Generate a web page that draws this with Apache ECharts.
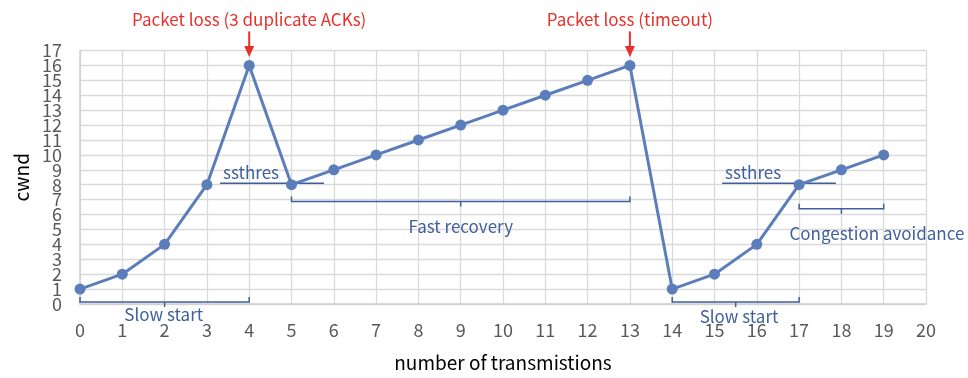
<!DOCTYPE html>
<html><head><meta charset="utf-8">
<script src="https://cdn.jsdelivr.net/npm/echarts@6/dist/echarts.min.js"></script>
<style>html,body{margin:0;padding:0;background:#fff}#c{width:968px;height:378px}</style>
</head><body><div id="c"></div>
<script>
// ---- data ----
const transmissions = [0,1,2,3,4,5,6,7,8,9,10,11,12,13,14,15,16,17,18,19];
const cwnd = [1,2,4,8,16,8,9,10,11,12,13,14,15,16,1,2,4,8,9,10];
const xTicks = [0,20,1];   // min, max, step
const yTicks = [0,17,1];
// brackets: [start, end, y, centre]
const bracketStart = [0, 5, 17, 14];
const bracketEnd   = [4, 13, 19, 17];
const bracketY     = [0.13, 6.87, 6.38, 0.13];
const bracketMid   = [2, 9, 18, 15.5];
const bracketLabel = ['Slow start','Fast recovery','Congestion avoidance','Slow start'];
const bracketLabelX = [1.98, 9.0, 18.84, 15.58];
const bracketLabelY = [-0.72, 5.2, 4.75, -0.82];
// ssthresh lines
const ssStart = [3.31, 15.18];
const ssEnd = [5.77, 17.87];
const ssValue = [8, 8];
const ssLabel = ['ssthres','ssthres'];
// packet loss events
const lossX = [4, 13];
const lossY = [16, 16];
const lossLabel = ['Packet loss (3 duplicate ACKs)','Packet loss (timeout)'];

const FONT = '"Noto Sans CJK KR", "Noto Sans", sans-serif';
const LINE = '#5b7ebb';
const ANN = '#3f5f9c';
const RED = '#e8302a';
const yLabelStyle = {margin:18,fontFamily:FONT,fontSize:18,color:'#595959',lineHeight:14};

const chart = echarts.init(document.getElementById('c'));
chart.setOption({
  animation:false,
  backgroundColor:'#fff',
  grid:{left:80,right:42,top:50.5,bottom:74},
  xAxis:{type:'value',min:xTicks[0],max:xTicks[1],interval:xTicks[2],
    name:'number of transmistions',nameLocation:'middle',nameGap:49,
    nameTextStyle:{fontFamily:FONT,fontSize:19,color:'#000'},
    axisLine:{show:true,lineStyle:{color:'#d0d0d0',width:1.5}},
    axisTick:{show:false},
    axisLabel:{margin:17,fontFamily:FONT,fontSize:18,color:'#595959',showMinLabel:true,showMaxLabel:true},
    splitLine:{show:true,lineStyle:{color:'#d9d9d9',width:1.3}}},
  yAxis:[
   {type:'value',min:yTicks[0],max:yTicks[1],interval:yTicks[2],position:'left',
    name:'cwnd',nameLocation:'middle',nameGap:46,
    nameTextStyle:{fontFamily:FONT,fontSize:19,color:'#000'},
    axisLine:{show:true,lineStyle:{color:'#d0d0d0',width:1.5}},
    axisTick:{show:false},
    axisLabel:Object.assign({showMinLabel:false,showMaxLabel:false},yLabelStyle),
    splitLine:{show:true,lineStyle:{color:'#d9d9d9',width:1.3}}},
   {type:'value',min:yTicks[0],max:yTicks[1],interval:yTicks[1]-yTicks[0],position:'left',offset:0,
    axisLine:{show:false},axisTick:{show:false},splitLine:{show:false},
    axisLabel:Object.assign({showMinLabel:true,showMaxLabel:true},yLabelStyle)}
  ],
  series:[
    {type:'line',data:transmissions.map((x,i)=>[x,cwnd[i]]),
     lineStyle:{color:LINE,width:3},itemStyle:{color:LINE},
     symbol:'circle',symbolSize:11,z:5},
    {type:'custom',clip:false,z:6,
     data:bracketStart.map((s,i)=>[s,bracketEnd[i],bracketY[i],bracketMid[i],bracketLabelX[i],bracketLabelY[i]]),
     renderItem:function(params,api){
       const y=api.value(2);
       const p1=api.coord([api.value(0),y]), p2=api.coord([api.value(1),y]), pc=api.coord([api.value(3),y]);
       const pl=api.coord([api.value(4),api.value(5)]);
       return {type:'group',children:[
         {type:'polyline',shape:{points:[[p1[0],p1[1]-5],[p1[0],p1[1]],[p2[0],p2[1]],[p2[0],p2[1]-5]]},
          style:{stroke:ANN,lineWidth:1.5,fill:null}},
         {type:'line',shape:{x1:pc[0],y1:pc[1],x2:pc[0],y2:pc[1]+5},style:{stroke:ANN,lineWidth:1.5}},
         {type:'text',x:pl[0],y:pl[1],style:{text:bracketLabel[params.dataIndex],fill:ANN,
           font:'17px '+FONT,align:'center',verticalAlign:'middle'}}
       ]};
     }},
    {type:'custom',clip:false,z:4,
     data:ssStart.map((s,i)=>[s,ssEnd[i],ssValue[i]]),
     renderItem:function(params,api){
       const p1=api.coord([api.value(0),api.value(2)]), p2=api.coord([api.value(1),api.value(2)]);
       return {type:'group',children:[
         {type:'line',shape:{x1:p1[0],y1:p1[1]-1.5,x2:p2[0],y2:p2[1]-1.5},style:{stroke:ANN,lineWidth:1.5}},
         {type:'text',x:p1[0]+3,y:p1[1]-12,style:{text:ssLabel[params.dataIndex],fill:ANN,
           font:'17px '+FONT,align:'left',verticalAlign:'middle'}}
       ]};
     }},
    {type:'custom',clip:false,z:6,
     data:lossX.map((x,i)=>[x,lossY[i]]),
     renderItem:function(params,api){
       const p=api.coord([api.value(0),api.value(1)]);
       const tip=p[1]-8.5, top=p[1]-34;
       return {type:'group',children:[
         {type:'line',shape:{x1:p[0],y1:top,x2:p[0],y2:tip-8},style:{stroke:RED,lineWidth:2}},
         {type:'polygon',shape:{points:[[p[0]-5,tip-11],[p[0]+5,tip-11],[p[0],tip]]},style:{fill:RED}},
         {type:'text',x:p[0],y:p[1]-46,style:{text:lossLabel[params.dataIndex],fill:RED,
           font:'17px '+FONT,align:'center',verticalAlign:'middle'}}
       ]};
     }}
  ]
});
</script></body></html>
